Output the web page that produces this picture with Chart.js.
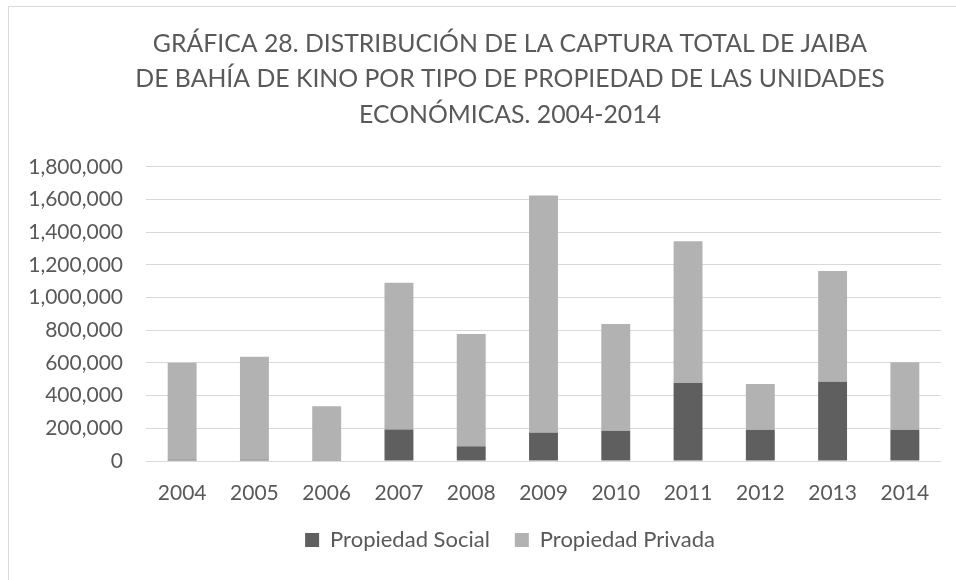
<!DOCTYPE html>
<html>
<head>
<meta charset="utf-8">
<script src="https://cdn.jsdelivr.net/npm/chart.js@4.4.1/dist/chart.umd.min.js"></script>
<style>
  html, body { margin: 0; padding: 0; background: #fff; overflow: hidden; }
  #frame {
    position: absolute; left: 8px; top: 6px;
    width: 1010px; height: 600px;
    border: 1px solid #d9d9d9;
  }
  canvas { display: block; }
</style>
</head>
<body>
<div id="frame">
  <canvas id="capturaChart" width="1002" height="554"></canvas>
</div>
<script>
// datos (kg)
var years = ['2004', '2005', '2006', '2007', '2008', '2009', '2010', '2011', '2012', '2013', '2014'];
var propiedadSocial = [8000, 8000, 2000, 193000, 90000, 174000, 184000, 478000, 190000, 485000, 190000];
var propiedadPrivada = [594000, 630000, 333000, 899000, 688000, 1452000, 654000, 867000, 282000, 678000, 415000];
var yTickLabels = ['0', '200,000', '400,000', '600,000', '800,000', '1,000,000',
                   '1,200,000', '1,400,000', '1,600,000', '1,800,000'];
var titleLines = [
  'GRÁFICA 28. DISTRIBUCIÓN DE LA CAPTURA TOTAL DE JAIBA',
  'DE BAHÍA DE KINO POR TIPO DE PROPIEDAD DE LAS UNIDADES',
  'ECONÓMICAS. 2004-2014'
];

Chart.defaults.font.family = 'Lato';
Chart.defaults.color = '#595959';

var ctx = document.getElementById('capturaChart').getContext('2d');
var myChart = new Chart(ctx, {
    type: 'bar',
    data: {
        labels: years,
        datasets: [{
            label: 'Propiedad Social',
            data: propiedadSocial,
            backgroundColor: '#5f5f5f',
            borderWidth: 0,
            barPercentage: 0.4,
            categoryPercentage: 1
        }, {
            label: 'Propiedad Privada',
            data: propiedadPrivada,
            backgroundColor: '#b2b2b2',
            borderWidth: 0,
            barPercentage: 0.4,
            categoryPercentage: 1
        }]
    },
    options: {
        responsive: false,
        animation: false,
        devicePixelRatio: 1,
        layout: {
            padding: { left: 18, right: 18, top: 0, bottom: 0 }
        },
        scales: {
            x: {
                stacked: true,
                grid: { display: false },
                border: { display: false },
                ticks: {
                    font: { size: 21 },
                    padding: 12,
                    maxRotation: 0
                },
                afterFit: function (scale) { scale.height = 43; }
            },
            y: {
                stacked: true,
                min: 0,
                max: 1800000,
                grid: { color: '#d9d9d9', lineWidth: 1, drawTicks: false },
                border: { display: false },
                ticks: {
                    stepSize: 200000,
                    font: { size: 21 },
                    padding: 23,
                    callback: function (value, index) { return yTickLabels[index]; }
                },
                afterFit: function (scale) { scale.width = 119; }
            },
            // empty right axis, only keeps the plot clear of the right side
            yRight: {
                position: 'right',
                display: true,
                grid: { display: false, drawTicks: false },
                border: { display: false },
                ticks: { display: false },
                afterFit: function (scale) { scale.width = 52; }
            }
        },
        plugins: {
            title: {
                display: true,
                text: titleLines,
                color: '#595959',
                font: { size: 24.8, weight: 'normal', lineHeight: 1.43 },
                padding: { top: 19, bottom: 34.6 }
            },
            legend: {
                position: 'bottom',
                labels: {
                    boxWidth: 14,
                    boxHeight: 14,
                    padding: 25,
                    font: { size: 22 },
                    color: '#595959'
                }
            },
            tooltip: { enabled: false }
        }
    }
});
</script>
</body>
</html>
